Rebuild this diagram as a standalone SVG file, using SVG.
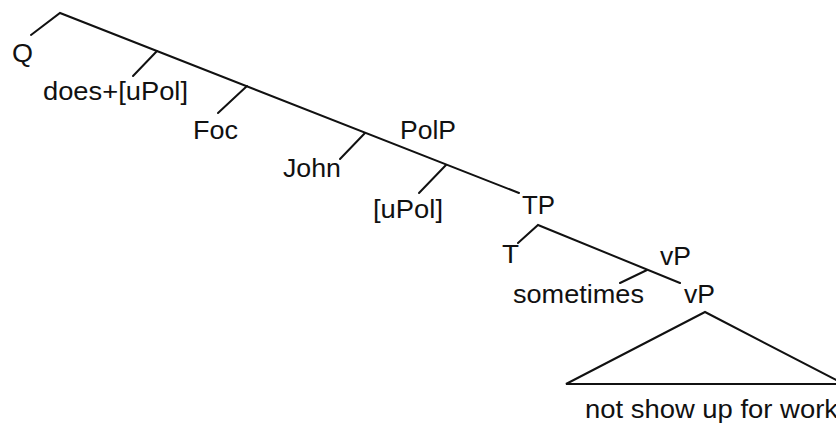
<svg xmlns="http://www.w3.org/2000/svg" width="836" height="424" viewBox="0 0 836 424">
<style>
.l{stroke:#111;stroke-width:2;fill:none;stroke-linecap:round;stroke-linejoin:miter}
text{font-family:"Liberation Sans",Arial,sans-serif;font-size:25px;fill:#111}
</style>
<rect width="836" height="424" fill="#fff"/>
<g id="connectors">
<polyline class="l" points="31,35 60,13 519,193"/>
<line class="l" x1="157" y1="51" x2="133" y2="76"/>
<line class="l" x1="247" y1="86" x2="218" y2="113"/>
<line class="l" x1="365" y1="133" x2="340" y2="159"/>
<line class="l" x1="446" y1="165" x2="419" y2="193"/>
<polyline class="l" points="518,243 538,225 680,283"/>
<line class="l" x1="647" y1="270" x2="620" y2="283"/>
</g>
<g id="n-Q"><text x="12" y="62" textLength="21" lengthAdjust="spacingAndGlyphs">Q</text></g>
<g id="n-does"><text x="43" y="100" textLength="145" lengthAdjust="spacingAndGlyphs">does+[uPol]</text></g>
<g id="n-Foc"><text x="193" y="139" textLength="45" lengthAdjust="spacingAndGlyphs">Foc</text></g>
<g id="n-John"><text x="283" y="177" textLength="58" lengthAdjust="spacingAndGlyphs">John</text></g>
<g id="n-PolP"><text x="400" y="139" textLength="56" lengthAdjust="spacingAndGlyphs">PolP</text></g>
<g id="n-uPol"><text x="373" y="218" textLength="70" lengthAdjust="spacingAndGlyphs">[uPol]</text></g>
<g id="n-TP"><text x="522" y="214" textLength="33" lengthAdjust="spacingAndGlyphs">TP</text></g>
<g id="n-T"><text x="502" y="263" textLength="17" lengthAdjust="spacingAndGlyphs">T</text></g>
<g id="n-vP1"><text x="660" y="265" textLength="31" lengthAdjust="spacingAndGlyphs">vP</text></g>
<g id="n-sometimes"><text x="513" y="303" textLength="131" lengthAdjust="spacingAndGlyphs">sometimes</text></g>
<g id="n-vP2"><text x="684" y="303" textLength="31" lengthAdjust="spacingAndGlyphs">vP</text></g>
<g id="n-triangle">
<polygon class="l" points="705,312 566,384 844,384"/>
<text x="585" y="418" textLength="253" lengthAdjust="spacingAndGlyphs">not show up for work</text>
</g>
</svg>
